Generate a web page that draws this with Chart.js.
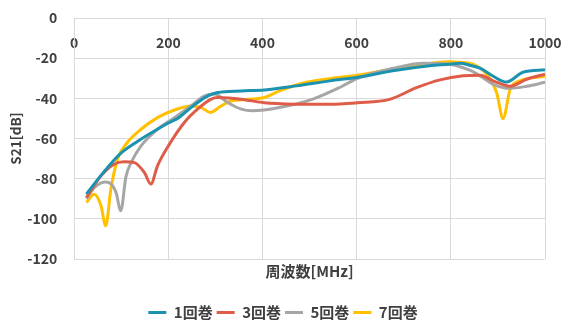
<!DOCTYPE html>
<html>
<head>
<meta charset="utf-8">
<script src="https://cdn.jsdelivr.net/npm/chart.js@4.4.1/dist/chart.umd.min.js"></script>
<style>
  html, body { margin: 0; padding: 0; background: #fff; }
  #wrap { width: 566px; height: 320px; }
</style>
</head>
<body>
<div id="wrap"><canvas id="s21Chart"></canvas></div>
<script>
// S21 vs frequency
const seriesNames = ["1回巻", "3回巻", "5回巻", "7回巻"];
const seriesColors = ["#1b93b0", "#de5c48", "#a6a6a6", "#ffc000"];

const freq1 = [26, 60, 96, 131, 200, 223, 248, 270, 284, 305, 355, 404, 472, 543, 602, 684, 755, 798, 819, 840, 862, 890, 918, 953, 1000];
const s21_1 = [-87.7, -77.5, -68, -62, -52.3, -49.5, -44.6, -40.8, -38.8, -37.1, -36.3, -35.8, -33.8, -31.3, -29.5, -26, -23.8, -23, -22.5, -23.5, -25, -29, -31.9, -27, -25.8];

const freq3 = [26, 57, 85, 106, 128, 149, 163, 177, 200, 234, 262, 291, 305, 355, 404, 472, 543, 602, 670, 727, 777, 826, 862, 890, 926, 961, 1000];
const s21_3 = [-89.4, -78.6, -72.8, -71.6, -72, -76.9, -82.7, -73.6, -63.7, -52, -45.4, -40.4, -39.6, -40.4, -42.2, -42.9, -43, -42.2, -40.5, -34.7, -30.8, -28.8, -28.5, -31.3, -34, -30.5, -28];

const freq5 = [26, 45, 67, 80, 89, 99, 110, 121, 142, 177, 213, 248, 277, 298, 326, 355, 379, 436, 507, 564, 602, 684, 741, 798, 840, 862, 890, 926, 961, 1000];
const s21_5 = [-90, -84, -81.6, -83, -86.9, -96, -79, -72, -63.7, -55.4, -49.6, -43.8, -38.8, -37.9, -42.1, -45.4, -46.2, -44.6, -40.4, -34.6, -30, -24.7, -22.5, -23, -26, -28.8, -33, -35, -34, -32];

const freq7 = [26, 43, 57, 67, 78, 92, 113, 142, 177, 213, 248, 270, 289, 312, 333, 369, 404, 436, 493, 543, 602, 700, 798, 819, 847, 876, 897, 911, 926, 947, 1000];
const s21_7 = [-91.8, -87.7, -93.5, -103.5, -85.2, -70.3, -62, -55.4, -49.6, -45.8, -43.8, -44.6, -47, -43.8, -41.3, -40.5, -39.6, -36.3, -32, -30.2, -28.5, -24.5, -21.8, -22, -23, -28, -37, -50, -35.5, -31.3, -29];

const freqLists = [freq1, freq3, freq5, freq7];
const s21Lists = [s21_1, s21_3, s21_5, s21_7];

const textColor = "#404040";
const gridColor = "#d9d9d9";
const clear = "rgba(0,0,0,0)";
const fontFamily = "'Noto Sans CJK JP', 'Noto Sans', sans-serif";

const datasets = seriesNames.map((name, i) => ({
  label: name,
  data: freqLists[i].map((f, j) => ({ x: f, y: s21Lists[i][j] })),
  borderColor: seriesColors[i],
  backgroundColor: seriesColors[i],
  borderWidth: 3,
  pointRadius: 0,
  cubicInterpolationMode: "monotone",
  fill: false,
}));

const ctx = document.getElementById("s21Chart").getContext("2d");
new Chart(ctx, {
  type: "line",
  data: { datasets: datasets },
  options: {
    responsive: true,
    maintainAspectRatio: false,
    animation: false,
    layout: { padding: { top: 18, right: 21, left: 21, bottom: -10 } },
    plugins: {
      legend: {
        position: "bottom",
        labels: {
          usePointStyle: true,
          pointStyle: "line",
          pointStyleWidth: 18,
          padding: 4,
          color: textColor,
          font: { family: fontFamily, size: 15, weight: "bold" },
        },
      },
      tooltip: { enabled: false },
    },
    scales: {
      x: {
        type: "linear",
        position: { y: 0 },   // axis sits on the 0 dB line, labels below it
        min: 0,
        max: 1000,
        ticks: {
          stepSize: 200,
          padding: 2,
          color: textColor,
          font: { family: fontFamily, size: 14, weight: "bold" },
          callback: (v) => String(v),
        },
        grid: { color: gridColor, drawTicks: true, tickLength: 14, tickColor: clear },
        border: { color: gridColor },
      },
      x2: {
        type: "linear",
        position: "bottom",
        grid: { display: false, drawTicks: false },
        border: { display: false },
        ticks: { display: false },
        title: {
          display: true,
          text: "周波数[MHz]",
          color: textColor,
          padding: { top: 3, bottom: 21 },
          font: { family: fontFamily, size: 15, weight: "bold" },
        },
      },
      y: {
        min: -120,
        max: 0,
        ticks: {
          stepSize: 20,
          padding: 3,
          color: textColor,
          font: { family: fontFamily, size: 14, weight: "bold" },
          callback: (v) => String(v),
        },
        // invisible tick marks keep the labels away from the axis
        grid: { color: gridColor, drawTicks: true, tickLength: 14, tickColor: clear },
        border: { color: gridColor },
        title: {
          display: true,
          text: "S21[dB]",
          color: textColor,
          padding: { top: -13, bottom: 0 },
          font: { family: fontFamily, size: 13.5, weight: "bold" },
        },
      },
    },
  },
});
</script>
</body>
</html>
